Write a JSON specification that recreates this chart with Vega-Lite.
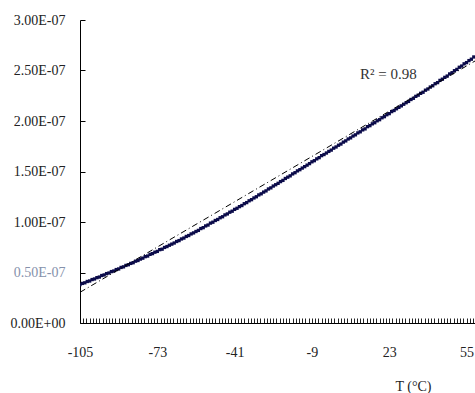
{
  "$schema": "https://vega.github.io/schema/vega-lite/v6.json",
  "width": 395,
  "height": 303,
  "autosize": {"type": "none"},
  "padding": {"left": 80, "top": 20, "right": 0, "bottom": 70},
  "background": "white",
  "view": {"stroke": null},
  "config": {"font": "Liberation Serif"},
  "datasets": {
    "pts": [
      {"T":-105,"D":0.380e-7},{"T":-104,"D":0.392e-7},{"T":-103,"D":0.398e-7},{"T":-102,"D":0.411e-7},{"T":-101,"D":0.416e-7},
      {"T":-100,"D":0.430e-7},{"T":-99,"D":0.436e-7},{"T":-98,"D":0.449e-7},{"T":-97,"D":0.455e-7},{"T":-96,"D":0.470e-7},
      {"T":-95,"D":0.476e-7},{"T":-94,"D":0.489e-7},{"T":-93,"D":0.495e-7},{"T":-92,"D":0.509e-7},{"T":-91,"D":0.515e-7},
      {"T":-90,"D":0.529e-7},{"T":-89,"D":0.535e-7},{"T":-88,"D":0.550e-7},{"T":-87,"D":0.556e-7},{"T":-86,"D":0.570e-7},
      {"T":-85,"D":0.577e-7},{"T":-84,"D":0.590e-7},{"T":-83,"D":0.597e-7},{"T":-82,"D":0.612e-7},{"T":-81,"D":0.619e-7},
      {"T":-80,"D":0.633e-7},{"T":-79,"D":0.642e-7},{"T":-78,"D":0.657e-7},{"T":-77,"D":0.663e-7},{"T":-76,"D":0.680e-7},
      {"T":-75,"D":0.687e-7},{"T":-74,"D":0.701e-7},{"T":-73,"D":0.709e-7},{"T":-72,"D":0.726e-7},{"T":-71,"D":0.731e-7},
      {"T":-70,"D":0.748e-7},{"T":-69,"D":0.757e-7},{"T":-68,"D":0.770e-7},{"T":-67,"D":0.781e-7},{"T":-66,"D":0.792e-7},
      {"T":-65,"D":0.807e-7},{"T":-64,"D":0.816e-7},{"T":-63,"D":0.832e-7},{"T":-62,"D":0.841e-7},{"T":-61,"D":0.857e-7},
      {"T":-60,"D":0.866e-7},{"T":-59,"D":0.882e-7},{"T":-58,"D":0.892e-7},{"T":-57,"D":0.906e-7},{"T":-56,"D":0.917e-7},
      {"T":-55,"D":0.935e-7},{"T":-54,"D":0.944e-7},{"T":-53,"D":0.961e-7},{"T":-52,"D":0.970e-7},{"T":-51,"D":0.989e-7},
      {"T":-50,"D":0.998e-7},{"T":-49,"D":1.015e-7},{"T":-48,"D":1.025e-7},{"T":-47,"D":1.042e-7},{"T":-46,"D":1.052e-7},
      {"T":-45,"D":1.070e-7},{"T":-44,"D":1.080e-7},{"T":-43,"D":1.097e-7},{"T":-42,"D":1.107e-7},{"T":-41,"D":1.125e-7},
      {"T":-40,"D":1.136e-7},{"T":-39,"D":1.152e-7},{"T":-38,"D":1.163e-7},{"T":-37,"D":1.181e-7},{"T":-36,"D":1.192e-7},
      {"T":-35,"D":1.210e-7},{"T":-34,"D":1.221e-7},{"T":-33,"D":1.238e-7},{"T":-32,"D":1.250e-7},{"T":-31,"D":1.268e-7},
      {"T":-30,"D":1.279e-7},{"T":-29,"D":1.296e-7},{"T":-28,"D":1.308e-7},{"T":-27,"D":1.327e-7},{"T":-26,"D":1.338e-7},
      {"T":-25,"D":1.356e-7},{"T":-24,"D":1.369e-7},{"T":-23,"D":1.383e-7},{"T":-22,"D":1.400e-7},{"T":-21,"D":1.412e-7},
      {"T":-20,"D":1.431e-7},{"T":-19,"D":1.444e-7},{"T":-18,"D":1.457e-7},{"T":-17,"D":1.476e-7},{"T":-16,"D":1.488e-7},
      {"T":-15,"D":1.506e-7},{"T":-14,"D":1.518e-7},{"T":-13,"D":1.534e-7},{"T":-12,"D":1.548e-7},{"T":-11,"D":1.563e-7},
      {"T":-10,"D":1.578e-7},{"T":-9,"D":1.596e-7},{"T":-8,"D":1.607e-7},{"T":-7,"D":1.625e-7},{"T":-6,"D":1.637e-7},
      {"T":-5,"D":1.657e-7},{"T":-4,"D":1.668e-7},{"T":-3,"D":1.683e-7},{"T":-2,"D":1.699e-7},{"T":-1,"D":1.712e-7},
      {"T":0,"D":1.731e-7},{"T":1,"D":1.743e-7},{"T":2,"D":1.760e-7},{"T":3,"D":1.772e-7},{"T":4,"D":1.791e-7},
      {"T":5,"D":1.803e-7},{"T":6,"D":1.822e-7},{"T":7,"D":1.833e-7},{"T":8,"D":1.851e-7},{"T":9,"D":1.863e-7},
      {"T":10,"D":1.882e-7},{"T":11,"D":1.893e-7},{"T":12,"D":1.912e-7},{"T":13,"D":1.922e-7},{"T":14,"D":1.944e-7},
      {"T":15,"D":1.954e-7},{"T":16,"D":1.972e-7},{"T":17,"D":1.983e-7},{"T":18,"D":2.002e-7},{"T":19,"D":2.013e-7},
      {"T":20,"D":2.032e-7},{"T":21,"D":2.043e-7},{"T":22,"D":2.062e-7},{"T":23,"D":2.073e-7},{"T":24,"D":2.093e-7},
      {"T":25,"D":2.104e-7},{"T":26,"D":2.121e-7},{"T":27,"D":2.135e-7},{"T":28,"D":2.150e-7},{"T":29,"D":2.166e-7},
      {"T":30,"D":2.181e-7},{"T":31,"D":2.194e-7},{"T":32,"D":2.213e-7},{"T":33,"D":2.225e-7},{"T":34,"D":2.244e-7},
      {"T":35,"D":2.256e-7},{"T":36,"D":2.274e-7},{"T":37,"D":2.285e-7},{"T":38,"D":2.305e-7},{"T":39,"D":2.317e-7},
      {"T":40,"D":2.336e-7},{"T":41,"D":2.349e-7},{"T":42,"D":2.369e-7},{"T":43,"D":2.380e-7},{"T":44,"D":2.402e-7},
      {"T":45,"D":2.414e-7},{"T":46,"D":2.432e-7},{"T":47,"D":2.445e-7},{"T":48,"D":2.466e-7},{"T":49,"D":2.478e-7},
      {"T":50,"D":2.498e-7},{"T":51,"D":2.511e-7},{"T":52,"D":2.532e-7},{"T":53,"D":2.544e-7},{"T":54,"D":2.566e-7},
      {"T":55,"D":2.578e-7},{"T":56,"D":2.598e-7},{"T":57,"D":2.612e-7},{"T":58,"D":2.634e-7}
    ],
    "fit": [
      {"T": -105, "D": 0.304e-7},
      {"T": 58.5, "D": 2.594e-7}
    ],
    "note": [
      {"T": 10.9, "D": 2.465e-7, "label": "R² = 0.98"}
    ]
  },
  "layer": [
    {
      "data": {"name": "pts"},
      "mark": {"type": "point", "shape": "square", "filled": true, "size": 11, "color": "#0b0b4a", "opacity": 1, "clip": true},
      "encoding": {
        "x": {
          "field": "T", "type": "quantitative",
          "scale": {"domain": [-105, 58.5], "nice": false, "zero": false},
          "axis": {
            "values": [-105,-103.667,-102.333,-101,-99.667,-98.333,-97,-95.667,-94.333,-93,-91.667,-90.333,-89,-87.667,-86.333,-85,-83.667,-82.333,-81,-79.667,-78.333,-77,-75.667,-74.333,-73,-71.667,-70.333,-69,-67.667,-66.333,-65,-63.667,-62.333,-61,-59.667,-58.333,-57,-55.667,-54.333,-53,-51.667,-50.333,-49,-47.667,-46.333,-45,-43.667,-42.333,-41,-39.667,-38.333,-37,-35.667,-34.333,-33,-31.667,-30.333,-29,-27.667,-26.333,-25,-23.667,-22.333,-21,-19.667,-18.333,-17,-15.667,-14.333,-13,-11.667,-10.333,-9,-7.667,-6.333,-5,-3.667,-2.333,-1,0.333,1.667,3,4.333,5.667,7,8.333,9.667,11,12.333,13.667,15,16.333,17.667,19,20.333,21.667,23,24.333,25.667,27,28.333,29.667,31,32.333,33.667,35,36.333,37.667,39,40.333,41.667,43,44.333,45.667,47,48.333,49.667,51,52.333,53.667,55,56.333,57.667],
            "tickCount": 500,
            "labelExpr": "(datum.value + 105) % 32 == 0 ? '' + datum.value : ''",
            "labelFlush": false,
            "labelOverlap": false,
            "labelFont": "Liberation Serif",
            "labelFontSize": 14,
            "labelColor": "#222222",
            "labelPadding": 27,
            "tickSize": -5,
            "tickColor": "#222222",
            "tickWidth": 1,
            "domainColor": "#000000",
            "domainWidth": 1,
            "grid": false,
            "title": "T (°C)",
            "titleFont": "Liberation Serif",
            "titleFontSize": 14,
            "titleFontWeight": "normal",
            "titleColor": "#222222",
            "titleX": 333,
            "titleY": 63,
            "titleAlign": "center",
            "titleBaseline": "middle"
          }
        },
        "y": {
          "field": "D", "type": "quantitative",
          "scale": {"domain": [0, 3e-7], "nice": false, "zero": true},
          "axis": {
            "values": [0, 0.5e-7, 1e-7, 1.5e-7, 2e-7, 2.5e-7, 3e-7],
            "labelExpr": "datum.value == 0 ? '0.00E+00' : format(datum.value * 1e7, '.2f') + 'E-07'",
            "labelFont": "Liberation Serif",
            "labelFontSize": 14,
            "labelColor": {"condition": {"test": "datum.value > 0.4e-7 && datum.value < 0.6e-7", "value": "#8591ab"}, "value": "#222222"},
            "labelPadding": 20,
            "tickSize": -5,
            "tickColor": "#000000",
            "domainColor": "#000000",
            "grid": false,
            "title": null
          }
        }
      }
    },
    {
      "data": {"name": "fit"},
      "mark": {"type": "line", "color": "#000000", "strokeWidth": 1, "strokeDash": [6, 3, 1, 3], "clip": true},
      "encoding": {
        "x": {"field": "T", "type": "quantitative"},
        "y": {"field": "D", "type": "quantitative"}
      }
    },
    {
      "data": {"name": "note"},
      "mark": {"type": "text", "align": "left", "baseline": "middle", "font": "Liberation Serif", "fontSize": 15, "color": "#333333"},
      "encoding": {
        "x": {"field": "T", "type": "quantitative"},
        "y": {"field": "D", "type": "quantitative"},
        "text": {"field": "label"}
      }
    }
  ]
}
